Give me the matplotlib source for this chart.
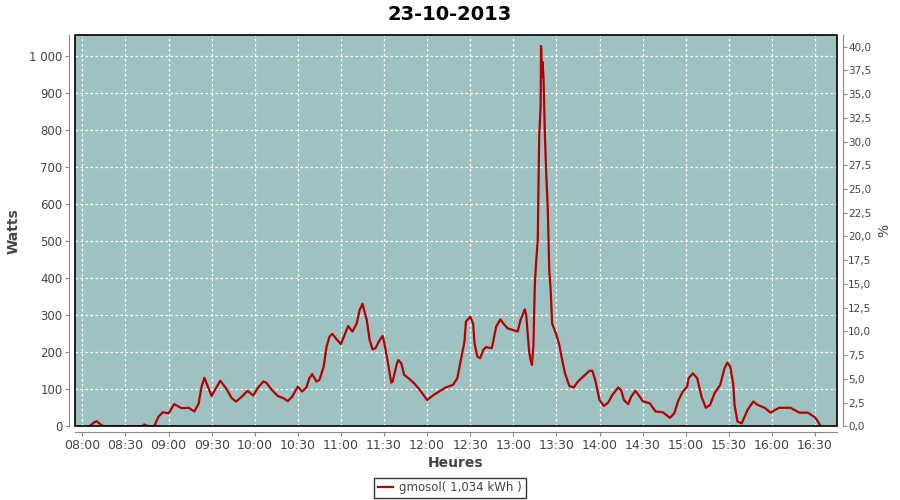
import matplotlib
matplotlib.use('Agg')
import matplotlib.pyplot as plt
from matplotlib.patches import Rectangle
from matplotlib.ticker import FuncFormatter, MultipleLocator

title = '23-10-2013'
serie_nom = 'gmosol( 1,034 kWh )'

heures = ['08:05', '08:08', '08:10', '08:13', '08:15', '08:30', '08:42', '08:43', '08:46',
          '08:50', '08:53', '08:56', '09:00', '09:04', '09:09', '09:14', '09:18', '09:21',
          '09:23', '09:25', '09:26', '09:30', '09:33', '09:36', '09:40', '09:44', '09:47',
          '09:51', '09:55', '09:59', '10:02', '10:06', '10:08', '10:12', '10:16', '10:20',
          '10:23', '10:26', '10:30', '10:33', '10:36', '10:38', '10:40', '10:43', '10:45',
          '10:48', '10:50', '10:52', '10:54', '10:57', '11:00', '11:03', '11:05', '11:08',
          '11:11', '11:13', '11:15', '11:18', '11:20', '11:22', '11:24', '11:27', '11:29',
          '11:30', '11:33', '11:35', '11:36', '11:39', '11:40', '11:42', '11:44', '11:48',
          '11:51', '11:55', '12:00', '12:05', '12:10', '12:13', '12:18', '12:21', '12:23',
          '12:26', '12:27', '12:30', '12:32', '12:33', '12:35', '12:37', '12:39', '12:41',
          '12:45', '12:46', '12:48', '12:51', '12:53', '12:56', '13:00', '13:03', '13:05',
          '13:08', '13:09', '13:11', '13:12', '13:13', '13:14', '13:15', '13:16', '13:17',
          '13:18', '13:19', '13:19', '13:20', '13:20', '13:21', '13:22', '13:23', '13:24',
          '13:25', '13:26', '13:27', '13:30', '13:32', '13:34', '13:36', '13:39', '13:42',
          '13:45', '13:50', '13:53', '13:55', '13:57', '14:00', '14:03', '14:06', '14:09',
          '14:13', '14:15', '14:17', '14:20', '14:22', '14:25', '14:28', '14:30', '14:35',
          '14:39', '14:44', '14:49', '14:52', '14:55', '14:58', '15:01', '15:02', '15:05',
          '15:08', '15:11', '15:14', '15:17', '15:20', '15:24', '15:27', '15:29', '15:31',
          '15:33', '15:34', '15:36', '15:39', '15:40', '15:43', '15:47', '15:50', '15:55',
          '15:59', '16:02', '16:05', '16:13', '16:19', '16:25', '16:30', '16:32', '16:34']

watts = [0, 10, 14, 4, 0, 0, 0, 5, 0,
         0, 26, 38, 35, 60, 49, 50, 40, 62,
         107, 131, 121, 82, 103, 123, 103, 76, 67,
         80, 96, 83, 103, 121, 118, 98, 82, 76,
         68, 80, 107, 94, 105, 130, 141, 121, 125,
         161, 215, 242, 250, 235, 222, 251, 271, 256,
         278, 314, 331, 287, 233, 208, 211, 233, 244,
         229, 166, 118, 121, 170, 179, 170, 139, 127,
         116, 98, 71, 86, 98, 105, 112, 130, 170,
         229, 283, 296, 278, 224, 188, 184, 206, 214,
         211, 229, 269, 289, 278, 265, 260, 256, 287,
         316, 301, 202, 179, 166, 220, 386, 450, 504,
         783, 864, 1028, 945, 985, 945, 783, 675, 585,
         423, 368, 278, 247, 220, 179, 143, 109, 105,
         121, 139, 150, 150, 125, 71, 55, 64, 85,
         105, 98, 71, 60, 80, 96, 80, 68, 62,
         40, 38, 23, 35, 71, 94, 107, 130, 143,
         130, 80, 50, 58, 89, 112, 157, 172, 161,
         116, 58, 13, 8, 17, 44, 67, 58, 50,
         37, 44, 50, 50, 37, 37, 24, 13, 0]


def minutes(h):
    hh, mm = h.split(':')
    return int(hh) * 60 + int(mm) - 8 * 60


t = [minutes(h) for h in heures]
# small offsets so that duplicated minutes keep the spike shape
t = [v + 0.3 * (i > 0 and heures[i] == heures[i - 1]) for i, v in enumerate(t)]

gris = '#444444'
gris_axe = '#888888'
fig = plt.figure(figsize=(9, 5), dpi=100, facecolor='white')
ax = fig.add_axes([75 / 900, 1 - 426.3 / 500, (837 - 75) / 900, (426.3 - 35) / 500])
ax.set_facecolor('#9ec2c2')

ax.plot(t, watts, color='#b30000', lw=1.6, label=serie_nom, zorder=3)

ax.set_xlim(-5.1, 525.3)
ax.set_ylim(0, 1057.6)
ax.xaxis.set_major_locator(MultipleLocator(30))
ax.xaxis.set_major_formatter(FuncFormatter(lambda v, p: '%02d:%02d' % (8 + int(v) // 60, int(v) % 60)))
ax.yaxis.set_major_locator(MultipleLocator(100))
ax.yaxis.set_major_formatter(FuncFormatter(lambda v, p: '{:,.0f}'.format(v).replace(',', ' ')))

ax.grid(True, color='white', ls=(0, (2, 2)), lw=0.9)
ax.set_axisbelow(True)

for s in ['top', 'right']:
    ax.spines[s].set_visible(False)
for s in ['left', 'bottom']:
    ax.spines[s].set_position(('outward', 4))
    ax.spines[s].set_color(gris_axe)
ax.tick_params(axis='x', colors=gris_axe, labelcolor=gris, labelsize=9,
               length=3, width=0.8, pad=2)
ax.tick_params(axis='y', colors=gris_axe, labelcolor=gris, labelsize=8.5,
               length=3, width=0.8, pad=2)

ax.add_patch(Rectangle((0, 0), 1, 1, transform=ax.transAxes, fill=False,
                       ec='black', lw=1.2, zorder=5, clip_on=False))

ax2 = ax.twinx()
ax2.set_ylim(0, 41.23)
ax2.yaxis.set_major_locator(MultipleLocator(2.5))
ax2.yaxis.set_major_formatter(FuncFormatter(lambda v, p: ('%.1f' % v).replace('.', ',')))
for s in ['top', 'left', 'bottom']:
    ax2.spines[s].set_visible(False)
ax2.spines['right'].set_position(('outward', 4))
ax2.spines['right'].set_color(gris_axe)
ax2.tick_params(axis='y', colors=gris_axe, labelcolor=gris, labelsize=7.5,
                length=3, width=0.8, pad=1)
ax2.set_ylabel('%', color=gris, fontsize=10, labelpad=4)

ax.set_xlabel('Heures', color=gris, fontsize=10, fontweight='bold', labelpad=3)
ax.set_ylabel('Watts', color=gris, fontsize=10, fontweight='bold', labelpad=6)
fig.text(0.5, 1 - 14 / 500, title, ha='center', va='center', fontsize=14, fontweight='bold')

leg = fig.legend(loc='center', bbox_to_anchor=(0.5, 1 - 488 / 500), frameon=True,
                 fancybox=False, fontsize=8.5, handlelength=1.3, handletextpad=0.5,
                 borderpad=0.3, labelcolor=gris)
leg.get_frame().set_edgecolor('black')
leg.get_frame().set_linewidth(1)

plt.savefig('out.png', dpi=100, facecolor='white')
plt.close()
